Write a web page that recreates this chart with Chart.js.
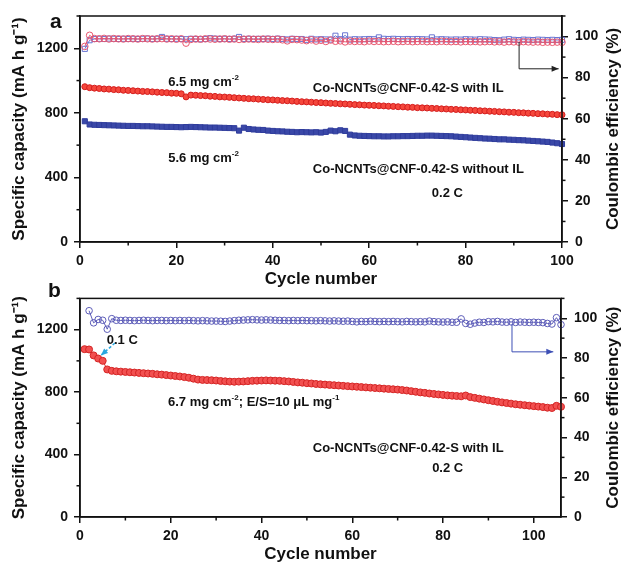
<!DOCTYPE html>
<html>
<head>
<meta charset="utf-8">
<script src="https://cdn.jsdelivr.net/npm/chart.js@4.4.1/dist/chart.umd.min.js"></script>
<style>
  body { margin: 0; background: #fff; }
  .panel { position: absolute; left: 0; width: 622px; }
</style>
</head>
<body>
<div class="panel" style="top:0; height:290px"><canvas id="chart_a" width="622" height="290"></canvas></div>
<div class="panel" style="top:283px; height:283px"><canvas id="chart_b" width="622" height="283"></canvas></div>
<script>
// tick positions (labels shown on every second one)
var x_ticks = [0, 10, 20, 30, 40, 50, 60, 70, 80, 90, 100];
var cap_ticks = [0, 200, 400, 600, 800, 1000, 1200, 1400];
var ce_ticks = [0, 10, 20, 30, 40, 50, 60, 70, 80, 90, 100, 110];

// panel a: capacity (mA h g-1), cycles 1..100
var cap_a_with_IL =
[
  962, 956, 953, 951, 948, 947, 944, 943, 940, 939,
  937, 935, 933, 932, 930, 928, 926, 925, 922, 921,
  918, 899, 910, 909, 907, 906, 903, 902, 899, 898,
  896, 894, 892, 890, 888, 887, 885, 883, 881, 880,
  878, 876, 875, 873, 871, 869, 868, 866, 864, 863,
  861, 859, 858, 856, 855, 853, 851, 850, 848, 847,
  846, 844, 843, 841, 840, 838, 837, 835, 834, 832,
  831, 830, 828, 827, 825, 824, 822, 821, 819, 818,
  816, 815, 813, 812, 810, 809, 807, 806, 804, 803,
  801, 800, 798, 797, 795, 794, 792, 791, 789, 788
];

var cap_a_without_IL =
[
  748, 728, 726, 725, 724, 723, 722, 721, 720, 719,
  719, 718, 717, 717, 716, 715, 714, 713, 713, 712,
  711, 712, 713, 712, 711, 710, 709, 709, 708, 707,
  706, 705, 690, 708, 700, 697, 695, 694, 690, 688,
  686, 685, 683, 682, 680, 681, 680, 679, 680, 678,
  682, 690, 686, 692, 688, 665, 660, 658, 657, 656,
  655, 655, 654, 654, 655, 655, 656, 656, 657, 658,
  658, 659, 659, 658, 657, 656, 655, 653, 651, 649,
  647, 645, 643, 641, 640, 638, 636, 636, 634, 633,
  631, 630, 628, 626, 624, 622, 620, 616, 612, 607
];

// panel a: coulombic efficiency (%), cycles 1..100
var ce_a_with_IL =
[
  95.2, 100.6, 99.0, 98.9, 99.1, 98.8, 99.0, 98.9, 98.8, 99.0,
  98.9, 98.8, 99.0, 98.9, 98.8, 98.9, 99.0, 98.8, 98.9, 98.7,
  98.9, 96.8, 98.6, 98.8, 98.7, 98.9, 98.8, 98.7, 98.8, 98.9,
  98.7, 98.8, 98.6, 98.7, 98.8, 98.7, 98.6, 98.8, 98.7, 98.6,
  98.7, 98.4, 97.9, 98.6, 98.5, 98.3, 98.0, 98.4, 97.8, 98.2,
  97.6, 98.3, 97.7, 97.9, 97.4, 97.8, 97.6, 97.7, 97.5, 97.8,
  97.6, 97.7, 97.5, 97.6, 97.7, 97.5, 97.6, 97.7, 97.5, 97.6,
  97.7, 97.5, 97.6, 97.5, 97.7, 97.6, 97.5, 97.6, 97.4, 97.6,
  97.5, 97.6, 97.4, 97.5, 97.6, 97.4, 97.5, 97.3, 97.5, 97.4,
  97.3, 97.5, 97.4, 97.3, 97.4, 97.2, 97.3, 97.2, 97.3, 97.2
];

var ce_a_without_IL =
[
  94.0, 98.2, 98.8, 98.9, 98.8, 99.0, 98.9, 98.8, 98.9, 98.8,
  98.9, 98.8, 98.9, 99.0, 98.8, 98.9, 99.8, 98.9, 98.8, 98.9,
  98.8, 98.7, 98.9, 98.8, 98.7, 98.8, 99.2, 99.0, 98.8, 98.9,
  98.8, 98.9, 99.8, 98.8, 98.9, 98.8, 98.9, 98.8, 99.0, 98.8,
  99.0, 98.8, 98.6, 98.9, 98.8, 98.8, 98.4, 98.9, 98.6, 98.7,
  98.6, 98.5, 100.4, 98.7, 100.6, 98.5, 98.7, 98.6, 98.7, 98.8,
  98.7, 99.6, 98.9, 98.8, 98.9, 98.8, 98.7, 98.8, 98.7, 98.8,
  98.7, 98.6, 99.6, 98.6, 98.7, 98.6, 98.5, 98.6, 98.5, 98.7,
  98.6, 98.5, 98.7, 98.6, 98.5, 98.3, 98.2, 98.5, 98.7, 98.4,
  98.3, 98.5, 98.4, 98.3, 98.5, 98.4, 98.3, 98.4, 98.3, 98.4
];

// panel b: capacity, cycles 1..106
var cap_b_with_IL =
[
  1075, 1073, 1035, 1015, 1000, 945, 936, 933, 931, 929,
  927, 925, 923, 921, 919, 917, 914, 912, 909, 906,
  903, 900, 896, 892, 886, 880, 878, 877, 876, 874,
  871, 869, 867, 866, 867, 868, 870, 872, 873, 874,
  875, 874, 873, 872, 870, 868, 865, 862, 860, 857,
  855, 852, 850, 848, 846, 844, 842, 840, 838, 836,
  834, 832, 830, 828, 826, 824, 822, 820, 818, 816,
  813, 810, 806, 802, 798, 795, 791, 788, 785, 782,
  779, 777, 775, 773, 778, 768, 763, 758, 753, 748,
  743, 738, 734, 730, 726, 722, 719, 716, 713, 710,
  707, 704, 700, 698, 712, 706
];

// panel b: coulombic efficiency, cycles 2..106
var ce_b_with_IL =
[
  103.8, 97.7, 99.4, 99.0, 94.5, 99.8, 99.0, 98.9, 99.0, 98.9,
  98.8, 98.9, 99.0, 98.9, 98.8, 98.9, 98.9, 98.8, 98.9, 98.8,
  98.9, 98.8, 98.9, 98.8, 98.7, 98.8, 98.7, 98.6, 98.6, 98.5,
  98.4, 98.6, 98.8, 99.0, 99.1, 99.2, 99.3, 99.2, 99.1, 99.2,
  99.1, 99.0, 98.9, 98.9, 98.8, 98.9, 98.8, 98.9, 98.8, 98.8,
  98.7, 98.8, 98.7, 98.6, 98.7, 98.6, 98.5, 98.6, 98.4, 98.2,
  98.4, 98.3, 98.5, 98.4, 98.3, 98.4, 98.3, 98.4, 98.3, 98.2,
  98.4, 98.3, 98.2, 98.3, 98.2, 98.6, 98.3, 98.2, 98.1, 98.2,
  98.0, 98.0, 99.7, 97.4, 97.0, 97.6, 98.0, 97.9, 98.3, 98.2,
  98.4, 98.1, 98.0, 98.2, 97.9, 98.1, 98.0, 97.9, 98.0, 97.9,
  97.8, 97.4, 97.1, 100.3, 96.8
];

var fontFamily = "'Liberation Sans', Arial, Helvetica, sans-serif";
Chart.defaults.font.family = fontFamily;
Chart.defaults.color = '#111';

function toPoints(values, firstCycle)
{
  return values.map(function(v, i) { return { x: firstCycle + i, y: v }; });
}

function labelEvery(major)
{
  return function(value) { return (value % major === 0) ? value : ''; };
}

function majorTickColor(major)
{
  return function(context)
  {
    var v = context.tick ? context.tick.value : 0;
    return (v % major === 0) ? '#111' : 'rgba(0,0,0,0)';
  };
}

function fixedTicks(values)
{
  return function(s)
  {
    s.ticks = values.map(function(v) { return { value: v }; });
  };
}

function axisGrid(major)
{
  return {
    drawOnChartArea: false,
    drawTicks: true,
    tickLength: 6,
    lineWidth: 1.5,
    tickWidth: 1.5,
    tickColor: majorTickColor(major)
  };
}

var tickFont = { size: 14, weight: 'bold' };
var titleFont = { size: 17, weight: 'bold' };

function makeScales(xMax, xHeight, xTitlePad, rightWidth)
{
  return {
    x:
    {
      type: 'linear', min: 0, max: xMax,
      afterBuildTicks: fixedTicks(x_ticks),
      ticks: { callback: labelEvery(20), autoSkip: false, maxRotation: 0, padding: 5, font: tickFont },
      grid: axisGrid(20),
      border: { color: '#111', width: 1.5 },
      title: { display: true, text: 'Cycle number', font: titleFont, padding: { top: 0, bottom: xTitlePad } },
      afterFit: function(s) { s.height = xHeight; }
    },
    y:
    {
      type: 'linear', position: 'left', min: 0, max: 1400,
      afterBuildTicks: fixedTicks(cap_ticks),
      ticks: { callback: labelEvery(400), autoSkip: false, padding: 6, font: tickFont },
      grid: axisGrid(400),
      border: { color: '#111', width: 1.5 },
      title: { display: true, text: 'Specific capacity (mA h g\u207B\u00B9)', font: titleFont, padding: { top: 9, bottom: 0 } },
      afterFit: function(s) { s.width = 80; }
    },
    y2:
    {
      type: 'linear', position: 'right', min: 0, max: 110,
      afterBuildTicks: fixedTicks(ce_ticks),
      ticks: { callback: labelEvery(20), autoSkip: false, padding: 7, font: tickFont },
      grid: axisGrid(20),
      border: { color: '#111', width: 1.5 },
      afterFit: function(s) { s.width = rightWidth; }
    }
  };
}

function drawRich(ctx, parts, x, y, size)
{
  var cx = x;
  for (var i = 0; i < parts.length; i++)
  {
    var sup = (i % 2 === 1);
    var fs = sup ? Math.round(size * 0.65) : size;
    ctx.font = 'bold ' + fs + 'px ' + fontFamily;
    ctx.fillText(parts[i], cx, sup ? y - size * 0.35 : y);
    cx += ctx.measureText(parts[i]).width;
  }
}

var panelExtras =
{
  id: 'panelExtras',
  afterDraw: function(chart, args, opts)
  {
    var ctx = chart.ctx;
    var area = chart.chartArea;
    var sx = chart.scales.x;
    ctx.save();

    // frame
    ctx.strokeStyle = '#111';
    ctx.lineWidth = 1.5;
    ctx.strokeRect(area.left, area.top, area.right - area.left, area.bottom - area.top);

    // minor ticks
    [['x', 20], ['y', 400], ['y2', 20]].forEach(function(m)
    {
      var s = chart.scales[m[0]];
      s.ticks.forEach(function(t)
      {
        if (t.value % m[1] === 0) return;
        var p = s.getPixelForValue(t.value);
        ctx.beginPath();
        if (m[0] === 'x') { ctx.moveTo(p, area.bottom); ctx.lineTo(p, area.bottom + 3.5); }
        else if (m[0] === 'y') { ctx.moveTo(area.left, p); ctx.lineTo(area.left - 3.5, p); }
        else { ctx.moveTo(area.right, p); ctx.lineTo(area.right + 3.5, p); }
        ctx.stroke();
      });
    });

    // panel letter
    ctx.fillStyle = '#111';
    ctx.textBaseline = 'alphabetic';
    ctx.textAlign = 'left';
    ctx.font = 'bold 21px ' + fontFamily;
    ctx.fillText(opts.letter, opts.letterPos[0], opts.letterPos[1]);

    // right axis title, read bottom to top
    ctx.save();
    ctx.translate(opts.rightTitleX, (area.top + area.bottom) / 2);
    ctx.rotate(-Math.PI / 2);
    ctx.textAlign = 'center';
    ctx.textBaseline = 'middle';
    ctx.font = 'bold 17px ' + fontFamily;
    ctx.fillText('Coulombic efficiency (%)', 0, 0);
    ctx.restore();

    // labels
    ctx.textAlign = 'left';
    ctx.textBaseline = 'middle';
    (opts.texts || []).forEach(function(t)
    {
      drawRich(ctx, t.parts, sx.getPixelForValue(t.x), chart.scales.y.getPixelForValue(t.y), 13);
    });

    // arrows
    (opts.arrows || []).forEach(function(a)
    {
      var sy = chart.scales[a.axis];
      var pts = a.points.map(function(p) { return [sx.getPixelForValue(p[0]), sy.getPixelForValue(p[1])]; });
      ctx.strokeStyle = a.color;
      ctx.fillStyle = a.color;
      ctx.lineWidth = a.width;
      ctx.setLineDash(a.dash || []);
      ctx.beginPath();
      ctx.moveTo(pts[0][0], pts[0][1]);
      for (var i = 1; i < pts.length; i++) ctx.lineTo(pts[i][0], pts[i][1]);
      ctx.stroke();
      ctx.setLineDash([]);
      var e = pts[pts.length - 1], b = pts[pts.length - 2];
      var ang = Math.atan2(e[1] - b[1], e[0] - b[0]);
      ctx.beginPath();
      ctx.moveTo(e[0], e[1]);
      ctx.lineTo(e[0] - 7 * Math.cos(ang) + 3 * Math.sin(ang), e[1] - 7 * Math.sin(ang) - 3 * Math.cos(ang));
      ctx.lineTo(e[0] - 7 * Math.cos(ang) - 3 * Math.sin(ang), e[1] - 7 * Math.sin(ang) + 3 * Math.cos(ang));
      ctx.closePath();
      ctx.fill();
    });

    ctx.restore();
  }
};

var chartA = new Chart(document.getElementById('chart_a').getContext('2d'),
{
  type: 'line',
  data:
  {
    datasets:
    [
      {
        data: toPoints(ce_a_with_IL, 1), yAxisID: 'y2',
        borderColor: '#e8566e', backgroundColor: 'rgba(0,0,0,0)', borderWidth: 1,
        pointStyle: 'circle', pointRadius: 3.3, pointBorderWidth: 1, pointBorderColor: '#e8566e', clip: false
      },
      {
        data: toPoints(ce_a_without_IL, 1), yAxisID: 'y2',
        borderColor: '#6a76d2', backgroundColor: 'rgba(0,0,0,0)', borderWidth: 1,
        pointStyle: 'rect', pointRadius: 3.6, pointBorderWidth: 1, pointBorderColor: '#6a76d2', clip: false
      },
      {
        data: toPoints(cap_a_with_IL, 1), yAxisID: 'y',
        borderColor: '#d81e1e', backgroundColor: '#f5473c', borderWidth: 1,
        pointStyle: 'circle', pointRadius: 3, pointBorderWidth: 1, pointBorderColor: '#d41c1c', clip: false
      },
      {
        data: toPoints(cap_a_without_IL, 1), yAxisID: 'y',
        borderColor: '#2f3c9c', backgroundColor: '#3a48a8', borderWidth: 1,
        pointStyle: 'rect', pointRadius: 3.6, pointBorderWidth: 1, pointBorderColor: '#2f3c9c', clip: false
      }
    ]
  },
  options:
  {
    responsive: false,
    animation: false,
    devicePixelRatio: 1,
    layout: { padding: { top: 16, left: 0, right: 0, bottom: 0 } },
    scales: makeScales(100, 48, 0, 60),
    plugins:
    {
      legend: { display: false },
      tooltip: { enabled: false },
      panelExtras:
      {
        letter: 'a', letterPos: [50, 28], rightTitleX: 613,
        texts:
        [
          { x: 18.3, y: 991, parts: ['6.5 mg cm', '-2'] },
          { x: 48.3, y: 954, parts: ['Co-NCNTs@CNF-0.42-S with IL'] },
          { x: 18.3, y: 520, parts: ['5.6 mg cm', '-2'] },
          { x: 48.3, y: 452, parts: ['Co-NCNTs@CNF-0.42-S without IL'] },
          { x: 73.0, y: 304, parts: ['0.2 C'] }
        ],
        arrows:
        [
          { axis: 'y2', color: '#222', width: 1, points: [[91.1, 97.3], [91.1, 84.3], [99.3, 84.3]] }
        ]
      }
    }
  },
  plugins: [panelExtras]
});

var chartB = new Chart(document.getElementById('chart_b').getContext('2d'),
{
  type: 'line',
  data:
  {
    datasets:
    [
      {
        data: toPoints(ce_b_with_IL, 2), yAxisID: 'y2',
        borderColor: '#5c5cb8', backgroundColor: 'rgba(0,0,0,0)', borderWidth: 1,
        pointStyle: 'circle', pointRadius: 3.3, pointBorderWidth: 1, pointBorderColor: '#5c5cb8', clip: false
      },
      {
        data: toPoints(cap_b_with_IL, 1), yAxisID: 'y',
        borderColor: '#d92828', backgroundColor: '#f25050', borderWidth: 1,
        pointStyle: 'circle', pointRadius: 3.5, pointBorderWidth: 1, pointBorderColor: '#d42424', clip: false
      }
    ]
  },
  options:
  {
    responsive: false,
    animation: false,
    devicePixelRatio: 1,
    layout: { padding: { top: 9, left: 0, right: 0, bottom: 0 } },
    scales: makeScales(106, 49, 1, 61),
    plugins:
    {
      legend: { display: false },
      tooltip: { enabled: false },
      panelExtras:
      {
        letter: 'b', letterPos: [48, 14], rightTitleX: 613,
        texts:
        [
          { x: 5.9, y: 1132, parts: ['0.1 C'] },
          { x: 19.4, y: 734, parts: ['6.7 mg cm', '-2', '; E/S=10 \u03BCL mg', '-1'] },
          { x: 51.3, y: 436, parts: ['Co-NCNTs@CNF-0.42-S with IL'] },
          { x: 77.6, y: 311, parts: ['0.2 C'] }
        ],
        arrows:
        [
          { axis: 'y2', color: '#3d4fb5', width: 1, points: [[95.2, 97.0], [95.2, 83.1], [104.3, 83.1]] },
          { axis: 'y', color: '#2aa7df', width: 1.5, dash: [3, 2], points: [[7.7, 1114], [4.6, 1035]] }
        ]
      }
    }
  },
  plugins: [panelExtras]
});
</script>
</body>
</html>
